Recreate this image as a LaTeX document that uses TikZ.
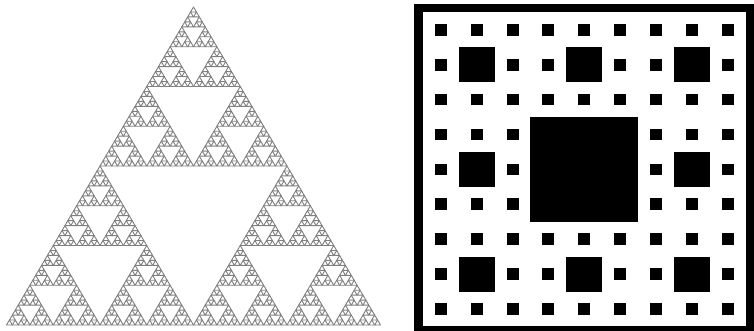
\documentclass[tikz,border=0pt]{standalone}
\tikzset{
  tri/.style={draw=black!50, line width=0.9pt, line join=round},
  hole/.style={fill=black},
}
\def\hr{0.8503}
\def\sierp#1#2#3#4{%
  \ifnum#4=0
    \draw[tri] (#1,#2) -- ++(#3,0) -- ++({-#3/2},{#3*\hr}) -- cycle;
  \else
    \begingroup
    \pgfmathsetmacro\hw{#3/2}%
    \pgfmathsetmacro\xm{#1+#3/4}%
    \pgfmathsetmacro\xr{#1+#3/2}%
    \pgfmathsetmacro\ym{#2+#3/2*\hr}%
    \pgfmathtruncatemacro\nl{#4-1}%
    \edef\next{\noexpand\sierp{#1}{#2}{\hw}{\nl}\noexpand\sierp{\xr}{#2}{\hw}{\nl}\noexpand\sierp{\xm}{\ym}{\hw}{\nl}}%
    \expandafter\endgroup\next
  \fi}
\begin{document}
\begin{tikzpicture}[x=1pt,y=1pt]
\useasboundingbox (0,0) rectangle (754,331);
\fill[white] (0,0) rectangle (754,331);
% Sierpinski triangle
\sierp{6.5}{6}{374}{6}
% Sierpinski carpet (inverted)
\fill[black] (414,0) rectangle (754,327);
\fill[white] (422.75,4.6) rectangle (745.9,318.6);
\begin{scope}[shift={(422.75,4.6)}, x=11.97pt, y=11.63pt]
  \fill[hole] (9,9) rectangle (18,18);
  \foreach \bi in {0,1,2}{
    \foreach \bj in {0,1,2}{
      \ifnum\bi=1 \ifnum\bj=1 \else
        \fill[hole] ({\bi*9+3},{\bj*9+3}) rectangle ++(3,3);
      \fi\else
        \fill[hole] ({\bi*9+3},{\bj*9+3}) rectangle ++(3,3);
      \fi
    }
  }
  \foreach \ci in {0,...,8}{
    \foreach \cj in {0,...,8}{
      \pgfmathtruncatemacro\skip{(mod(\ci,3)==1 && mod(\cj,3)==1) || (\ci>2 && \ci<6 && \cj>2 && \cj<6) ? 1 : 0}
      \ifnum\skip=0
        \fill[hole] ({\ci*3+1},{\cj*3+1}) rectangle ++(1,1);
      \fi
    }
  }
\end{scope}
\end{tikzpicture}
\end{document}
